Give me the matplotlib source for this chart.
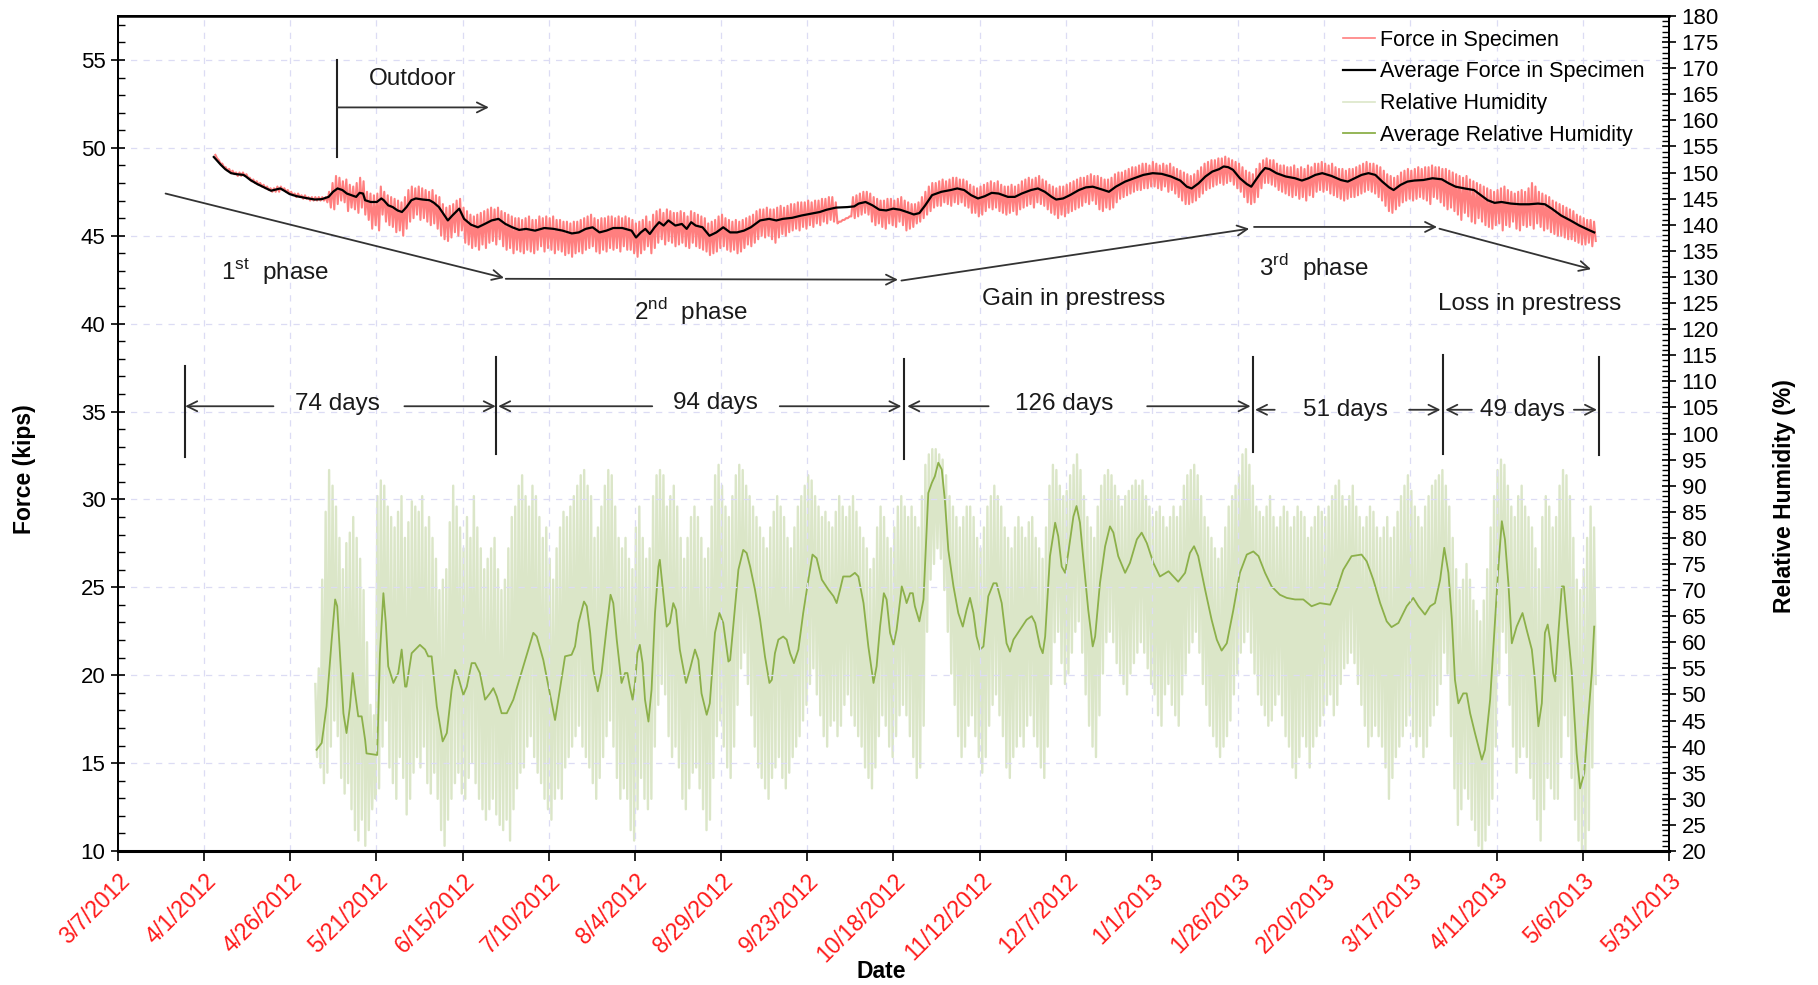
import numpy as np
import matplotlib
matplotlib.use("Agg")
import matplotlib.pyplot as plt
import matplotlib.dates as mdates
from matplotlib.lines import Line2D
from matplotlib.ticker import MultipleLocator
from datetime import datetime, timedelta

plt.rcParams['font.family'] = ['Liberation Sans', 'DejaVu Sans']
plt.rcParams['mathtext.fontset'] = 'custom'
plt.rcParams['mathtext.rm'] = 'Liberation Sans'

START = datetime(2012, 3, 7)

# (days after 3/7/2012, kips) -- daily averaged force
force_avg = [
    (27.8, 49.48), (29.8, 49.04), (31.1, 48.79), (32.8, 48.56), (34.4, 48.50), (36.4, 48.46), (37.1, 48.37),
    (38.4, 48.17), (40.4, 47.94), (42.4, 47.75), (44.4, 47.56), (45.8, 47.63), (47.1, 47.69), (48.4, 47.54),
    (49.8, 47.37), (51.8, 47.25), (54.4, 47.15), (57.1, 47.06), (59.1, 47.08), (61.1, 47.21), (62.4, 47.50),
    (63.7, 47.69), (65.1, 47.60), (66.4, 47.40), (67.7, 47.31), (69.1, 47.21), (70.1, 47.44), (71.1, 47.40),
    (71.7, 47.02), (73.3, 46.92), (75.1, 46.92), (76.4, 47.12), (77.1, 47.02), (78.4, 46.73), (79.7, 46.63),
    (81.1, 46.44), (82.4, 46.35), (83.7, 46.63), (85.1, 47.02), (86.4, 47.12), (88.4, 47.06), (90.4, 47.02),
    (91.7, 46.87), (93.1, 46.63), (94.4, 46.25), (95.7, 45.87), (97.0, 46.15), (99.0, 46.54), (100.4, 45.96),
    (102.4, 45.63), (104.4, 45.48), (106.4, 45.67), (108.4, 45.87), (110.4, 45.96), (112.4, 45.67),
    (114.4, 45.48), (116.4, 45.33), (118.4, 45.39), (121.0, 45.29), (123.7, 45.44), (126.4, 45.39),
    (129.0, 45.29), (131.7, 45.13), (133.7, 45.19), (135.7, 45.39), (137.7, 45.48), (139.7, 45.19),
    (141.7, 45.29), (143.7, 45.44), (146.3, 45.44), (149.0, 45.29), (150.3, 44.90), (151.7, 45.19),
    (153.0, 45.39), (154.3, 45.10), (155.7, 45.48), (157.0, 45.77), (158.3, 45.58), (159.7, 45.87),
    (161.7, 45.58), (163.6, 45.67), (165.0, 45.39), (166.3, 45.77), (167.6, 45.58), (169.6, 45.48),
    (171.6, 45.00), (173.6, 45.19), (175.6, 45.48), (177.6, 45.19), (179.6, 45.19), (181.6, 45.29),
    (183.6, 45.48), (186.3, 45.87), (188.9, 45.96), (191.0, 45.87), (192.9, 45.96), (195.6, 46.02),
    (198.3, 46.15), (200.9, 46.25), (203.6, 46.35), (205.6, 46.48), (208.3, 46.60), (211.6, 46.63),
    (213.6, 46.67), (214.9, 46.83), (216.9, 46.92), (218.9, 46.73), (220.9, 46.48), (222.9, 46.44),
    (224.9, 46.54), (226.9, 46.48), (228.9, 46.35), (230.9, 46.21), (232.5, 46.29), (234.2, 46.73),
    (236.2, 47.31), (238.9, 47.50), (241.6, 47.60), (243.5, 47.69), (245.5, 47.60), (247.5, 47.31),
    (249.5, 47.12), (251.5, 47.25), (253.5, 47.44), (255.5, 47.40), (258.2, 47.21), (260.2, 47.21),
    (262.2, 47.40), (264.9, 47.60), (266.9, 47.69), (268.9, 47.50), (270.9, 47.21), (272.2, 47.06),
    (274.2, 47.12), (276.2, 47.31), (278.8, 47.60), (280.8, 47.75), (282.8, 47.79), (285.5, 47.63),
    (287.5, 47.50), (289.5, 47.79), (292.2, 48.08), (294.8, 48.27), (297.5, 48.46), (300.2, 48.56),
    (302.8, 48.52), (305.5, 48.37), (308.2, 48.14), (310.1, 47.79), (311.5, 47.69), (313.5, 47.98),
    (315.5, 48.37), (317.5, 48.65), (319.5, 48.79), (320.8, 48.94), (322.1, 48.90), (323.5, 48.75),
    (325.5, 48.27), (327.5, 47.94), (328.8, 47.79), (330.1, 48.17), (331.5, 48.56), (332.8, 48.85),
    (334.1, 48.79), (336.1, 48.56), (338.8, 48.37), (341.5, 48.27), (343.5, 48.14), (345.4, 48.27),
    (347.4, 48.46), (349.4, 48.56), (352.1, 48.40), (354.8, 48.17), (356.8, 48.08), (358.8, 48.27),
    (360.8, 48.46), (362.8, 48.56), (364.8, 48.46), (366.8, 48.08), (368.8, 47.75), (370.1, 47.60),
    (372.1, 47.89), (374.1, 48.08), (376.1, 48.14), (378.7, 48.17), (381.4, 48.27), (384.1, 48.21),
    (386.1, 47.98), (388.1, 47.79), (390.7, 47.69), (393.4, 47.60), (395.4, 47.31), (397.4, 47.02),
    (399.4, 46.87), (401.4, 46.92), (404.1, 46.83), (406.7, 46.79), (409.4, 46.79), (412.0, 46.83),
    (414.0, 46.79), (416.0, 46.54), (418.7, 46.15), (421.4, 45.87), (424.0, 45.58), (426.7, 45.33),
    (428.3, 45.19),
]

# daily max / min of the logged force, starting on day 28
force_first_day = 28
force_hi = [
    49.6, 49.3, 49.1, 48.9, 48.8, 48.7, 48.6, 48.6, 48.6, 48.5,
    48.3, 48.2, 48.1, 48.0, 47.9, 47.8, 47.7, 47.7, 47.8, 47.8,
    47.7, 47.6, 47.5, 47.4, 47.4, 47.3, 47.3, 47.2, 47.2, 47.2,
    47.2, 47.2, 47.2, 47.5, 48.0, 48.4, 48.3, 48.1, 48.2, 47.9,
    47.8, 48.0, 48.3, 48.1, 47.5, 47.4, 47.3, 47.4, 47.8, 47.5,
    47.3, 47.2, 47.1, 47.0, 46.9, 47.2, 47.6, 47.8, 47.7, 47.8,
    47.7, 47.6, 47.5, 47.6, 47.3, 47.2, 46.8, 46.6, 46.7, 46.8,
    47.0, 47.1, 46.6, 46.4, 46.2, 46.1, 46.2, 46.3, 46.4, 46.5,
    46.6, 46.5, 46.6, 46.4, 46.3, 46.2, 46.1, 46.0, 46.0, 45.9,
    46.0, 46.1, 45.9, 45.9, 46.1, 46.0, 46.1, 46.0, 46.1, 45.9,
    45.9, 45.8, 45.8, 45.7, 45.8, 45.8, 45.9, 46.0, 46.1, 46.2,
    46.0, 45.9, 46.0, 46.0, 46.1, 46.1, 46.0, 46.1, 46.0, 46.1,
    46.0, 45.9, 45.7, 45.8, 45.9, 46.1, 45.8, 46.2, 46.4, 46.5,
    46.3, 46.5, 46.4, 46.3, 46.3, 46.4, 46.3, 46.1, 46.4, 46.3,
    46.2, 46.1, 46.0, 45.7, 45.8, 45.9, 46.1, 46.2, 46.0, 45.9,
    45.8, 45.9, 45.8, 45.9, 46.0, 46.1, 46.2, 46.4, 46.5, 46.5,
    46.6, 46.5, 46.5, 46.6, 46.7, 46.6, 46.7, 46.8, 46.8, 46.9,
    46.9, 46.9, 47.0, 46.9, 47.0, 47.0, 47.1, 47.1, 47.2, 47.2,
    46.9, 45.8, 45.9, 46.0, 46.1, 47.2, 47.3, 47.4, 47.5, 47.5,
    47.4, 47.2, 47.1, 47.0, 47.0, 47.1, 47.1, 47.0, 47.1, 47.2,
    47.0, 46.9, 46.8, 46.8, 46.9, 47.2, 47.5, 47.8, 48.0, 48.0,
    48.1, 48.2, 48.1, 48.2, 48.3, 48.3, 48.2, 48.2, 48.1, 47.9,
    47.8, 47.7, 47.8, 47.9, 48.0, 48.1, 48.0, 48.1, 47.9, 47.8,
    47.8, 47.9, 47.8, 47.9, 48.1, 48.2, 48.3, 48.2, 48.3, 48.4,
    48.2, 48.1, 47.9, 47.8, 47.7, 47.8, 47.8, 47.9, 48.0, 48.1,
    48.2, 48.3, 48.3, 48.4, 48.5, 48.4, 48.4, 48.3, 48.2, 48.2,
    48.3, 48.5, 48.6, 48.6, 48.7, 48.8, 48.9, 48.9, 49.0, 49.1,
    49.1, 49.0, 49.2, 49.1, 49.0, 49.1, 49.0, 49.1, 48.9, 48.8,
    48.7, 48.6, 48.5, 48.4, 48.5, 48.7, 48.9, 49.1, 49.2, 49.3,
    49.3, 49.4, 49.4, 49.5, 49.4, 49.3, 49.2, 49.1, 48.9, 48.7,
    48.6, 48.5, 48.8, 49.1, 49.3, 49.4, 49.3, 49.3, 49.1, 49.0,
    49.0, 48.9, 48.9, 49.0, 48.8, 48.9, 48.8, 49.0, 48.9, 49.1,
    49.1, 49.2, 49.1, 49.0, 49.1, 48.9, 48.8, 48.8, 48.7, 48.8,
    48.8, 48.9, 49.0, 49.1, 49.2, 49.1, 49.1, 49.0, 48.9, 48.7,
    48.5, 48.4, 48.3, 48.4, 48.6, 48.7, 48.8, 48.7, 48.8, 48.9,
    48.8, 48.9, 48.9, 49.0, 48.9, 48.9, 48.8, 48.8, 48.7, 48.6,
    48.5, 48.4, 48.3, 48.4, 48.2, 48.1, 48.0, 47.9, 47.8, 47.7,
    47.6, 47.5, 47.6, 47.7, 47.8, 47.6, 47.5, 47.4, 47.5, 47.6,
    47.5, 47.7, 48.0, 47.8, 47.5, 47.4, 47.3, 47.2, 47.0, 46.9,
    46.8, 46.7, 46.6, 46.5, 46.4, 46.2, 46.1, 46.0, 45.9, 45.9,
    45.8,
]
force_lo = [
    49.4, 49.1, 48.9, 48.7, 48.6, 48.5, 48.4, 48.4, 48.4, 48.3,
    48.1, 48.0, 47.9, 47.8, 47.7, 47.6, 47.5, 47.5, 47.5, 47.6,
    47.5, 47.4, 47.3, 47.2, 47.2, 47.1, 47.1, 47.0, 47.0, 47.0,
    47.0, 47.0, 46.9, 46.6, 46.5, 46.8, 47.0, 46.9, 46.4, 46.6,
    46.5, 46.3, 46.6, 46.2, 45.9, 45.4, 45.6, 45.3, 46.2, 45.8,
    45.6, 45.5, 45.2, 45.3, 45.0, 45.4, 45.8, 46.0, 46.2, 45.9,
    46.0, 45.8, 45.6, 45.7, 45.4, 45.0, 44.8, 44.7, 44.9, 45.2,
    45.0, 45.3, 44.6, 44.5, 44.3, 44.4, 44.2, 44.5, 44.3, 44.6,
    44.7, 44.5, 44.8, 44.4, 44.2, 44.3, 44.0, 44.2, 44.1, 44.0,
    44.2, 44.1, 44.0, 44.2, 44.4, 44.1, 44.3, 44.2, 44.0, 44.2,
    44.1, 43.9, 44.0, 43.8, 44.0, 44.1, 44.0, 44.2, 44.3, 44.4,
    44.1, 44.0, 44.2, 44.1, 44.3, 44.2, 44.3, 44.1, 44.4, 44.2,
    44.2, 44.0, 43.8, 44.0, 44.2, 44.4, 44.0, 44.3, 44.6, 44.8,
    44.5, 44.7, 44.6, 44.4, 44.5, 44.6, 44.4, 44.3, 44.6, 44.4,
    44.3, 44.2, 44.1, 43.9, 44.0, 44.1, 44.3, 44.4, 44.2, 44.1,
    44.2, 44.0, 44.1, 44.3, 44.5, 44.4, 44.6, 44.8, 45.0, 44.9,
    45.0, 44.8, 44.6, 44.9, 45.1, 45.0, 45.2, 45.3, 45.4, 45.3,
    45.5, 45.4, 45.6, 45.5, 45.7, 45.6, 45.8, 45.7, 45.9, 45.8,
    45.7, 45.8, 45.9, 46.0, 46.1, 46.0, 46.1, 46.2, 46.3, 46.2,
    45.8, 45.6, 45.7, 45.5, 45.4, 45.7, 45.6, 45.5, 45.8, 45.6,
    45.3, 45.4, 45.5, 45.7, 45.8, 46.0, 46.2, 46.4, 46.6, 46.7,
    46.7, 46.9, 46.8, 46.7, 46.9, 46.8, 46.9, 46.7, 46.6, 46.3,
    46.3, 46.1, 46.2, 46.4, 46.6, 46.5, 46.6, 46.4, 46.3, 46.2,
    46.3, 46.4, 46.2, 46.5, 46.6, 46.7, 46.8, 46.6, 46.9, 46.8,
    46.7, 46.5, 46.3, 46.2, 46.0, 46.2, 46.1, 46.3, 46.4, 46.5,
    46.6, 46.7, 46.9, 46.8, 47.0, 46.8, 46.5, 46.4, 46.6, 46.5,
    46.6, 46.9, 47.1, 47.2, 47.3, 47.4, 47.5, 47.6, 47.6, 47.7,
    47.7, 47.8, 47.8, 47.7, 47.6, 47.8, 47.5, 47.6, 47.4, 47.2,
    47.0, 46.8, 46.8, 46.9, 47.0, 47.2, 47.4, 47.6, 47.7, 47.8,
    47.9, 48.0, 47.9, 48.0, 48.1, 47.9, 47.7, 47.5, 47.2, 46.9,
    46.8, 46.9, 47.2, 47.7, 48.0, 48.0, 47.9, 47.8, 47.6, 47.5,
    47.4, 47.3, 47.2, 47.3, 47.1, 47.2, 47.0, 47.3, 47.2, 47.5,
    47.6, 47.5, 47.6, 47.4, 47.3, 47.2, 47.1, 47.0, 47.1, 47.2,
    47.2, 47.3, 47.4, 47.5, 47.6, 47.5, 47.4, 47.2, 47.0, 46.7,
    46.4, 46.3, 46.5, 46.7, 46.9, 47.0, 47.1, 47.0, 47.1, 47.2,
    47.1, 47.0, 46.8, 47.2, 47.1, 46.9, 46.7, 46.5, 46.6, 46.4,
    46.2, 45.9, 46.3, 46.1, 45.8, 45.7, 46.0, 45.8, 45.6, 45.5,
    45.4, 45.6, 45.7, 45.3, 45.6, 45.5, 45.8, 45.4, 45.3, 45.6,
    45.5, 45.6, 45.4, 45.7, 45.5, 45.3, 45.4, 45.2, 45.1, 45.0,
    45.0, 44.9, 44.8, 44.8, 44.7, 44.6, 44.5, 44.5, 44.6, 44.4,
    44.7,
]

# (days after 3/7/2012, %) -- daily averaged relative humidity
rh_avg = [
    (57.6, 39.4), (59.1, 40.7), (60.5, 47.7), (62.0, 60.5), (63.0, 68.2), (63.6, 66.9), (64.4, 57.9),
    (65.4, 46.4), (66.3, 42.6), (67.3, 47.7), (68.1, 54.1), (68.8, 50.2), (69.7, 45.8), (70.7, 45.8),
    (71.7, 41.3), (72.1, 38.7), (75.2, 38.4), (76.0, 57.9), (77.0, 69.4), (77.7, 63.7), (78.4, 55.4),
    (79.9, 52.2), (81.3, 54.1), (82.3, 58.6), (83.3, 51.5), (83.7, 51.5), (85.2, 57.9), (87.6, 59.5),
    (89.1, 58.6), (90.0, 57.3), (91.0, 57.3), (92.5, 47.7), (94.2, 41.0), (95.4, 42.6), (96.8, 50.9),
    (97.8, 54.7), (98.7, 53.4), (100.2, 49.9), (101.2, 51.5), (102.6, 56.0), (103.6, 56.0), (105.0, 54.1),
    (106.5, 49.0), (107.9, 50.2), (108.9, 51.2), (109.9, 49.6), (111.3, 46.4), (112.8, 46.4), (114.7, 49.0),
    (117.6, 55.4), (120.5, 61.8), (121.5, 61.1), (123.4, 56.6), (125.3, 50.2), (126.8, 45.1), (128.2, 50.9),
    (129.7, 57.3), (131.6, 57.6), (132.6, 59.2), (133.6, 63.7), (135.2, 67.8), (136.0, 66.9), (137.0, 61.8),
    (137.9, 54.7), (139.2, 50.6), (140.3, 54.1), (141.8, 63.0), (142.9, 69.1), (143.7, 67.5), (144.7, 60.5),
    (146.1, 52.2), (147.1, 54.1), (147.8, 54.1), (148.5, 51.5), (149.3, 49.0), (150.0, 52.2), (150.7, 57.9),
    (151.4, 59.5), (152.2, 56.0), (152.9, 49.0), (153.9, 44.8), (154.8, 50.9), (155.8, 65.6), (156.8, 74.5),
    (157.2, 75.8), (158.0, 70.7), (159.2, 63.0), (160.1, 63.7), (161.1, 67.5), (161.9, 66.2), (163.0, 58.6),
    (164.8, 52.2), (165.9, 54.7), (167.4, 58.6), (168.4, 56.6), (169.3, 50.2), (170.8, 46.1), (171.7, 48.3),
    (173.2, 61.8), (174.5, 65.6), (175.6, 63.7), (177.1, 56.3), (177.6, 56.6), (178.5, 63.0), (180.0, 73.9),
    (181.4, 77.7), (182.4, 77.1), (183.4, 74.5), (184.8, 70.1), (186.3, 64.3), (187.7, 57.3), (189.0, 52.2),
    (189.7, 52.8), (190.6, 57.9), (191.6, 60.5), (193.0, 61.1), (194.0, 60.5), (195.0, 57.9), (196.1, 56.0),
    (197.4, 58.6), (198.8, 65.6), (200.3, 72.0), (201.5, 76.8), (202.7, 76.1), (204.2, 72.0), (206.1, 70.1),
    (207.6, 68.8), (208.5, 67.5), (209.5, 70.1), (210.4, 72.6), (212.4, 72.6), (213.8, 73.3), (214.8, 72.6),
    (216.3, 67.5), (217.7, 59.2), (219.2, 52.2), (220.1, 55.4), (221.1, 63.0), (222.2, 69.4), (223.0, 68.2),
    (224.0, 61.8), (225.0, 59.5), (225.9, 62.4), (227.4, 70.7), (228.3, 68.8), (228.8, 67.5), (229.8, 69.4),
    (230.6, 69.4), (231.2, 66.9), (232.5, 64.0), (233.7, 68.2), (235.1, 88.6), (236.1, 90.5), (237.0, 91.8),
    (238.0, 94.4), (239.0, 93.1), (239.9, 87.3), (240.9, 77.7), (242.4, 70.7), (243.8, 65.6), (245.1, 63.0),
    (246.2, 66.2), (247.2, 68.5), (248.2, 65.6), (249.1, 61.1), (250.1, 58.6), (251.1, 59.2), (252.5, 68.8),
    (254.0, 71.3), (254.9, 71.3), (256.4, 67.5), (257.8, 59.8), (258.8, 58.2), (259.8, 60.5), (261.7, 62.4),
    (263.6, 64.3), (265.1, 65.0), (266.1, 63.7), (267.5, 59.2), (268.3, 57.9), (269.0, 61.1), (270.4, 76.5),
    (271.9, 82.9), (272.8, 80.3), (273.8, 74.5), (274.8, 73.3), (275.7, 77.1), (277.2, 84.1), (278.1, 86.1),
    (279.1, 82.9), (280.1, 75.8), (281.5, 66.2), (282.8, 59.2), (283.5, 61.1), (284.9, 71.3), (286.4, 78.4),
    (287.8, 82.2), (288.8, 81.0), (290.2, 76.5), (292.2, 73.3), (293.6, 75.2), (295.6, 79.7), (297.0, 81.0),
    (298.5, 79.0), (300.4, 75.2), (302.3, 72.6), (304.8, 73.6), (306.2, 72.6), (307.6, 71.6), (309.6, 73.3),
    (311.0, 77.1), (312.2, 78.4), (313.4, 76.5), (315.4, 70.1), (317.3, 64.3), (318.8, 60.5), (320.2, 58.4),
    (321.7, 59.8), (323.6, 66.2), (325.5, 73.3), (327.5, 76.8), (329.4, 77.4), (330.9, 76.5), (332.8, 73.3),
    (334.7, 70.7), (337.1, 69.1), (339.1, 68.5), (341.5, 68.2), (343.9, 68.2), (346.3, 66.9), (348.7, 67.5),
    (351.7, 67.2), (353.6, 70.1), (355.5, 73.9), (357.9, 76.5), (360.8, 76.8), (362.3, 75.5), (364.2, 72.0),
    (366.2, 67.5), (368.1, 64.0), (369.5, 62.9), (371.5, 63.7), (373.9, 66.9), (375.8, 68.5), (377.3, 66.9),
    (379.2, 65.3), (380.7, 66.9), (382.1, 67.5), (383.6, 72.0), (384.8, 78.1), (386.0, 73.3), (387.0, 64.3),
    (387.9, 52.8), (388.9, 48.3), (390.3, 50.2), (391.3, 50.2), (392.3, 46.4), (393.7, 42.6), (395.7, 37.5),
    (396.6, 39.4), (398.1, 49.0), (399.5, 63.7), (400.5, 74.5), (401.5, 83.2), (402.4, 79.7), (403.4, 71.3),
    (404.4, 59.8), (405.8, 63.0), (407.5, 65.6), (408.7, 62.4), (410.2, 58.6), (411.1, 52.8), (412.1, 43.9),
    (413.1, 48.3), (414.0, 61.8), (414.8, 63.4), (415.5, 60.5), (416.4, 54.1), (417.0, 52.5), (417.9, 61.8),
    (418.9, 70.7), (419.5, 70.7), (420.3, 65.0), (421.8, 54.1), (423.2, 38.7), (424.2, 32.0), (425.4, 34.9),
    (426.6, 45.8), (427.6, 54.1), (428.3, 63.0),
]

# daily max / min of the logged relative humidity, starting on day 57
rh_first_day = 57
rh_hi = [
    52, 55, 72, 85, 93, 90, 86, 80, 74, 79,
    81, 84, 80, 76, 70, 60, 48, 46, 88, 91,
    90, 86, 84, 82, 85, 88, 80, 83, 87, 86,
    85, 88, 82, 84, 80, 76, 70, 72, 74, 83,
    90, 86, 82, 78, 84, 80, 88, 82, 78, 74,
    76, 78, 80, 74, 70, 72, 78, 84, 86, 90,
    92, 88, 86, 90, 88, 84, 80, 82, 76, 72,
    78, 82, 85, 84, 86, 88, 90, 92, 93, 90,
    88, 80, 82, 86, 90, 93, 92, 86, 80, 78,
    80, 76, 74, 82, 86, 80, 76, 78, 88, 92,
    93, 92, 86, 88, 90, 86, 80, 76, 80, 84,
    86, 84, 80, 76, 78, 86, 92, 94, 90, 86,
    84, 88, 92, 94, 93, 90, 88, 86, 84, 82,
    80, 78, 82, 85, 88, 86, 84, 80, 78, 82,
    86, 88, 90, 92, 91, 88, 86, 84, 85, 83,
    82, 85, 88, 86, 84, 86, 88, 85, 82, 80,
    78, 74, 76, 82, 86, 84, 80, 78, 82, 86,
    88, 86, 84, 86, 84, 82, 88, 94, 96, 97,
    97, 96, 95, 92, 88, 86, 84, 82, 84, 86,
    86, 84, 80, 78, 82, 86, 88, 90, 88, 86,
    82, 80, 78, 82, 84, 82, 80, 83, 84, 80,
    78, 76, 82, 90, 94, 93, 90, 88, 89, 92,
    94, 96, 93, 88, 84, 82, 80, 86, 90, 92,
    93, 92, 90, 88, 86, 88, 89, 90, 91, 90,
    91, 88, 86, 84, 85, 86, 84, 82, 84, 86,
    84, 86, 90, 92, 93, 94, 92, 88, 84, 82,
    80, 78, 76, 78, 82, 86, 88, 90, 92, 96,
    97, 94, 90, 86, 85, 84, 86, 88, 84, 82,
    84, 86, 85, 82, 84, 86, 85, 84, 80, 82,
    84, 86, 85, 84, 86, 88, 90, 91, 88, 86,
    88, 90, 86, 84, 82, 84, 86, 85, 82, 80,
    82, 84, 80, 82, 85, 88, 90, 92, 89, 86,
    84, 82, 86, 88, 90, 91, 92, 93, 90, 86,
    80, 74, 70, 72, 75, 72, 68, 66, 64, 68,
    74, 82, 88, 93, 95, 94, 90, 86, 84, 88,
    90, 86, 84, 82, 78, 74, 84, 88, 86, 82,
    84, 90, 93, 92, 88, 80, 72, 70, 74, 80,
    86, 82,
]
rh_lo = [
    38, 36, 33, 35, 40, 45, 42, 34, 31, 33,
    28, 24, 22, 26, 21, 24, 28, 30, 32, 40,
    45, 36, 33, 30, 38, 34, 27, 30, 35, 38,
    36, 40, 33, 31, 35, 30, 24, 21, 26, 30,
    33, 35, 31, 30, 34, 37, 33, 30, 28, 26,
    28, 30, 27, 25, 24, 26, 22, 28, 32, 35,
    36, 40, 42, 38, 35, 33, 30, 28, 26, 30,
    32, 30, 36, 38, 40, 42, 44, 40, 38, 36,
    33, 30, 34, 38, 42, 45, 40, 34, 30, 32,
    30, 24, 22, 28, 34, 30, 28, 30, 40, 48,
    52, 50, 42, 38, 40, 36, 30, 28, 32, 35,
    36, 32, 28, 24, 26, 34, 42, 45, 40, 36,
    34, 40, 48, 55, 58, 52, 46, 40, 36, 34,
    32, 30, 34, 36, 38, 34, 32, 35, 38, 40,
    42, 45, 48, 52, 55, 50, 46, 42, 40, 44,
    45, 42, 44, 48, 50, 46, 44, 42, 40, 36,
    34, 32, 36, 42, 46, 44, 40, 38, 42, 46,
    48, 46, 42, 38, 34, 36, 44, 62, 72, 75,
    78, 76, 70, 62, 54, 48, 42, 38, 40, 44,
    46, 42, 38, 35, 38, 44, 48, 50, 46, 42,
    36, 34, 38, 40, 42, 40, 44, 46, 42, 40,
    36, 34, 40, 52, 60, 62, 56, 52, 54, 58,
    62, 64, 58, 50, 44, 40, 38, 46, 54, 60,
    62, 60, 56, 54, 52, 50, 54, 56, 58, 60,
    58, 55, 52, 50, 46, 44, 50, 52, 48, 46,
    44, 50, 54, 58, 60, 62, 58, 52, 48, 44,
    42, 40, 38, 40, 42, 45, 50, 54, 58, 60,
    62, 58, 54, 50, 48, 46, 44, 45, 48, 50,
    46, 42, 40, 36, 34, 38, 42, 40, 36, 40,
    42, 44, 46, 48, 50, 46, 48, 52, 55, 56,
    58, 56, 52, 48, 44, 40, 42, 44, 42, 40,
    36, 30, 34, 38, 40, 42, 44, 46, 42, 40,
    42, 38, 40, 44, 46, 48, 52, 58, 54, 42,
    32, 25, 28, 32, 30, 26, 24, 21, 20, 22,
    25, 30, 40, 54, 62, 58, 48, 40, 35, 38,
    40, 38, 34, 30, 26, 22, 28, 34, 32, 30,
    30, 38, 46, 42, 34, 26, 22, 20, 20, 24,
    36, 52,
]

x0 = mdates.date2num(START)


def zigzag(first_day, hi, lo):
    # daily max in the afternoon, daily min before dawn
    day = first_day + np.arange(len(hi))
    t = np.empty(2 * len(hi))
    v = np.empty(2 * len(hi))
    t[0::2] = day + 0.25
    t[1::2] = day + 0.75
    v[0::2] = hi
    v[1::2] = lo
    return x0 + t, v


fig = plt.figure(figsize=(18.18, 9.85), dpi=100)
ax = fig.add_axes([118 / 1818, 1 - 851 / 985, 1551 / 1818, 835 / 985])
ax2 = ax.twinx()

RAW_RED = '#ff7f7f'
RAW_GREEN = '#dbe6c8'
AVG_GREEN = '#8cb04a'

# humidity on the right axis
t, v = zigzag(rh_first_day, rh_hi, rh_lo)
ax2.plot(t, v, color=RAW_GREEN, lw=1.7)
rd, rv = zip(*rh_avg)
ax2.plot(x0 + np.array(rd), rv, color=AVG_GREEN, lw=1.3)

# force on the left axis
t, v = zigzag(force_first_day, force_hi, force_lo)
ax.plot(t, v, color=RAW_RED, lw=1.5, zorder=3)
fd, fv = zip(*force_avg)
ax.plot(x0 + np.array(fd), fv, color='black', lw=1.6, zorder=4)

ax.set_zorder(ax2.get_zorder() + 1)
ax.patch.set_visible(False)

ax.set_xlim(x0, x0 + 450)
ax.set_ylim(10, 57.5)
ax2.set_ylim(20, 180)

xt = x0 + np.arange(0, 451, 25)
ax.set_xticks(xt)
labels = []
for k in range(0, 451, 25):
    d = START + timedelta(days=k)
    labels.append(f"{d.month}/{d.day}/{d.year}")
ax.set_xticklabels(labels, rotation=45, ha='right', rotation_mode='anchor',
                   color='#ff1a1a', fontsize=16.5)

ax.yaxis.set_major_locator(MultipleLocator(5))
ax.yaxis.set_minor_locator(MultipleLocator(1))
ax2.yaxis.set_major_locator(MultipleLocator(5))
ax2.yaxis.set_minor_locator(MultipleLocator(1))

ax.tick_params(axis='y', which='major', direction='inout', length=10, width=1.2, labelsize=16, pad=4)
ax.tick_params(axis='y', which='minor', direction='in', length=5, width=1.0)
ax.tick_params(axis='x', which='major', direction='out', length=7, width=1.2, pad=6)
ax2.tick_params(axis='y', which='major', direction='inout', length=10, width=1.2, labelsize=16, pad=4)
ax2.tick_params(axis='y', which='minor', direction='in', length=5, width=1.0)

ax.grid(True, which='major', color='#dcdcf4', linestyle=(0, (5, 5)), linewidth=0.9)
for a in (ax, ax2):
    for s in a.spines.values():
        s.set_linewidth(1.4)
ax.spines['bottom'].set_linewidth(2.2)
ax.spines['top'].set_linewidth(1.8)

fig.text(25 / 1818, 1 - 469 / 985, 'Force (kips)', rotation=90, ha='center', va='center',
         fontsize=16.5, fontweight='bold')
fig.text(1785 / 1818, 1 - 496 / 985, 'Relative Humidity (%)', rotation=90, ha='center', va='center',
         fontsize=16.5, fontweight='bold')
fig.text(881 / 1818, 1 - 971 / 985, 'Date', ha='center', va='center', fontsize=16.5, fontweight='bold')

ARROW = dict(arrowstyle='->', color='#333333', lw=1.3, mutation_scale=18, shrinkA=0, shrinkB=0)


def arrow(d1, f1, d2, f2):
    ax.annotate('', xy=(x0 + d2, f2), xytext=(x0 + d1, f1), arrowprops=ARROW, zorder=5)


def vline(d, f1, f2):
    ax.plot([x0 + d, x0 + d], [f1, f2], color='#222222', lw=1.5, zorder=5)


ANNOT = dict(fontsize=17.5, ha='center', va='center', color='#1a1a1a', zorder=6)

# outdoor marker
vline(63.6, 55.0, 49.5)
arrow(63.6, 52.3, 107.6, 52.3)
ax.text(x0 + 85.4, 53.9, 'Outdoor', **ANNOT)

# phases of the force history
arrow(13.8, 47.4, 112.0, 42.6)
arrow(112.5, 42.55, 226.3, 42.5)
arrow(227.3, 42.45, 328.2, 45.4)
arrow(329.6, 45.5, 382.7, 45.5)
arrow(383.4, 45.4, 427.4, 43.1)
ax.text(x0 + 45.7, 43.0, r'1$^{\mathregular{st}}$  phase', **ANNOT)
ax.text(x0 + 166.1, 40.7, r'2$^{\mathregular{nd}}$  phase', **ANNOT)
ax.text(x0 + 277.4, 41.4, 'Gain in prestress', **ANNOT)
ax.text(x0 + 347.1, 43.2, r'3$^{\mathregular{rd}}$  phase', **ANNOT)
ax.text(x0 + 409.6, 41.1, 'Loss in prestress', **ANNOT)

# duration of each phase
for d, top, bot in [(19.5, 37.6, 32.4), (109.6, 38.1, 32.6), (228.0, 38.0, 32.3),
                    (329.2, 38.1, 32.7), (384.4, 38.2, 32.6), (429.8, 38.1, 32.5)]:
    vline(d, top, bot)
arrow(45.1, 35.3, 19.5, 35.3)
arrow(83.1, 35.3, 109.6, 35.3)
ax.text(x0 + 63.6, 35.4, '74 days', **ANNOT)
arrow(155.0, 35.3, 110.3, 35.3)
arrow(192.0, 35.3, 227.3, 35.3)
ax.text(x0 + 173.2, 35.5, '94 days', **ANNOT)
arrow(252.6, 35.3, 229.0, 35.3)
arrow(298.6, 35.3, 328.6, 35.3)
ax.text(x0 + 274.4, 35.4, '126 days', **ANNOT)
arrow(335.6, 35.1, 329.9, 35.1)
arrow(374.6, 35.1, 383.7, 35.1)
ax.text(x0 + 356.2, 35.1, '51 days', **ANNOT)
arrow(392.8, 35.1, 385.1, 35.1)
arrow(422.4, 35.1, 429.1, 35.1)
ax.text(x0 + 407.6, 35.1, '49 days', **ANNOT)

handles = [
    Line2D([], [], color=RAW_RED, lw=1.2),
    Line2D([], [], color='black', lw=1.6),
    Line2D([], [], color=RAW_GREEN, lw=1.2),
    Line2D([], [], color=AVG_GREEN, lw=1.3),
]
names = ['Force in Specimen', 'Average Force in Specimen', 'Relative Humidity', 'Average Relative Humidity']
ax.legend(handles, names, loc='upper left', bbox_to_anchor=(0.784, 0.994), frameon=False,
          fontsize=15.5, handlelength=1.5, handletextpad=0.25, labelspacing=0.5, borderaxespad=0)

fig.savefig('out.png', dpi=100)
